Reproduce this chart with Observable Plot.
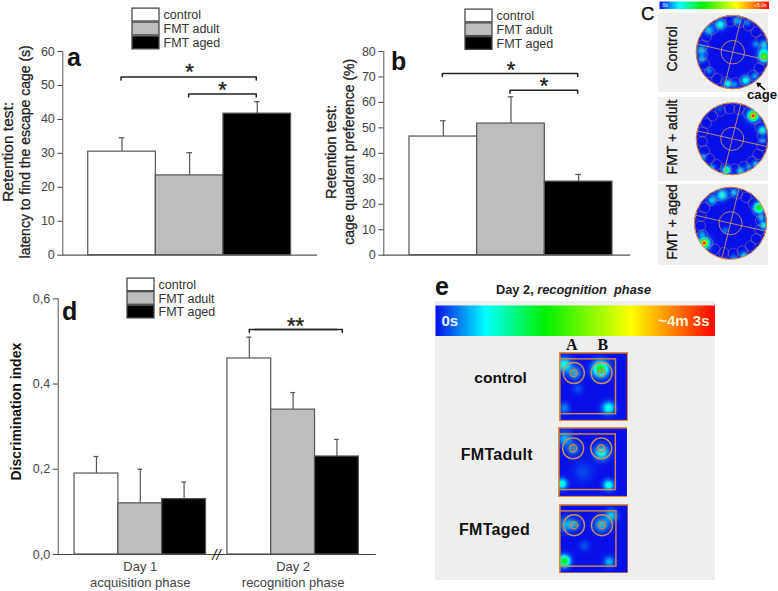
<!DOCTYPE html>
<html>
<head>
<meta charset="utf-8">
<script src="https://cdn.jsdelivr.net/npm/d3@7"></script>
<script src="https://cdn.jsdelivr.net/npm/@observablehq/plot@0.6"></script>
<style>
  html,body{margin:0;padding:0;background:#fff;}
  #fig{position:relative;width:778px;height:591px;overflow:hidden;font-family:"Liberation Sans",Arial,sans-serif;}
  #fig svg{position:absolute;background:transparent;font-family:"Liberation Sans",Arial,sans-serif;}
  .lbl{position:absolute;line-height:1;white-space:nowrap;}
</style>
</head>
<body>
<div id="fig"></div>
<script>
// ---------- data ----------
const groups = ["control", "FMT adult", "FMT aged"];
const groupFills = ["#ffffff", "#bdbdbd", "#000000"];

const aMeans = [30.5, 23.5, 41.7];
const aTops = [34.6, 30.2, 45.2];
const aTicks = [0, 10, 20, 30, 40, 50, 60];
const aBrackets = [
  {from: "control", to: "FMT aged", y: 52.5},
  {from: "FMT adult", to: "FMT aged", y: 47.5}
];

const bMeans = [46.6, 51.7, 28.9];
const bTops = [52.8, 62.2, 31.7];
const bTicks = [0, 10, 20, 30, 40, 50, 60, 70, 80];
const bBrackets = [
  {from: "control", to: "FMT aged", y: 71.4},
  {from: "FMT adult", to: "FMT aged", y: 64.8}
];

const days = ["Day 1", "Day 2"];
const dayLabels = ["Day 1\nacquisition phase", "Day 2\nrecognition phase"];
const dMeansDay1 = [0.19, 0.12, 0.13];
const dTopsDay1 = [0.23, 0.20, 0.17];
const dMeansDay2 = [0.46, 0.34, 0.23];
const dTopsDay2 = [0.51, 0.38, 0.27];
const dTicks = [0, 0.2, 0.4, 0.6];

// heat scale: value stops and their colours
const heatStops = [0, 0.18, 0.39, 0.7, 1];
const heatColors = ["#0810e8", "#00ffff", "#00f000", "#ffff00", "#ff0000"];

// panel c: arena hot spots [x, y, spread, strength], y upward, arena radius = 1
const arenaControl = [
  [.86,-.14,.075,.4],[.85,-.03,.11,.20],[.35,-.77,.08,.20],[-.14,-.86,.07,.20],[.6,-.65,.06,.12],
  [-.34,.75,.09,.20],[-.65,.6,.09,.14],[.12,.86,.08,.12],[.62,.22,.06,.10],[-.85,.05,.09,.13],
  [-.84,-.18,.07,.12],[-.65,-.5,.06,.10],[.85,.22,.07,.14],[.05,-.88,.06,.1],[.4,.8,.06,.08]
];
const arenaAdult = [
  [.58,.64,.06,.85],[.58,.64,.12,.2],[.84,.23,.08,.2],[-.16,-.87,.07,.33],[.23,-.89,.07,.16],
  [-.56,-.8,.06,.12],[-.8,-.5,.06,.1],[.65,-.7,.06,.14],[.84,-.05,.06,.1],[.45,-.78,.06,.1],[-.35,.82,.06,.05]
];
const arenaAged = [
  [-.73,-.55,.06,.85],[-.73,-.55,.12,.2],[.79,.43,.09,.42],[.92,-.06,.07,.2],[-.23,.78,.1,.2],
  [-.51,.64,.08,.15],[.37,-.9,.07,.15],[-.14,-.2,.06,.08],[.09,-.95,.06,.08],[-.79,-.3,.06,.1],[.85,.15,.06,.14],[.1,.85,.07,.14]
];
const cageAngles = [5,23,41,59,77,95,113,131,149,167,185,203,221,239,257,275,293,311,329,347];
const crossA = [[-.97,.22],[.97,-.22]];
const crossB = [[.24,.97],[-.24,-.97]];

// panel e: box hot spots [x, y, spread, strength], y upward, box side = 1
const boxControl = [[.07,.82,.07,.2],[.6,.76,.075,.38],[.22,.7,.06,.13],[.715,.19,.06,.21],[.07,.19,.05,.09],[.27,.47,.05,.05]];
const boxAdult = [[.09,.84,.07,.12],[.21,.69,.06,.1],[.62,.64,.07,.2],[.05,.19,.05,.22],[.72,.17,.05,.22],[.36,.36,.1,.04]];
const boxAged = [[.75,.84,.06,.14],[.1,.71,.07,.12],[.61,.71,.07,.14],[.07,.18,.055,.4],[.72,.17,.05,.13],[.36,.4,.05,.05],[.22,.71,.05,.1]];
const objectSpots = [[.21,.7],[.615,.7]];
const arenaRect = [{x1:0,x2:.825,y1:.1,y2:.9}];

// ---------- helpers ----------
const fig = document.getElementById("fig");
const ink = "#444";
const FONT = "Liberation Sans, Arial, sans-serif";
const fillScale = {domain: groups, range: groupFills};
const star = {fontSize: 22, fill: "#222", stroke: "#222", strokeWidth: .4, fontFamily: FONT};
const axisTitle = {frameAnchor: "left", textAnchor: "middle", rotate: -90, fill: "#222", stroke: "#222", strokeWidth: .3, fontFamily: FONT};

function place(svg, left, top) {
  svg.style.left = left + "px";
  svg.style.top = top + "px";
  fig.appendChild(svg);
}
function label(text, left, baseline, size, css = "") {
  const d = document.createElement("div");
  d.className = "lbl";
  d.innerHTML = text;
  d.style.cssText = `left:${left}px;top:${baseline - 0.83 * size}px;font-size:${size}px;${css}`;
  fig.appendChild(d);
}
function legend(left, top, h) {
  place(Plot.plot({
    width: 122, height: h, marginLeft: 1, marginRight: 94, marginTop: 1, marginBottom: 1,
    x: {domain: [0, 1], axis: null},
    y: {domain: groups, padding: .08, round: false, axis: null},
    color: fillScale,
    marks: [
      Plot.barX(groups, {x1: 0, x2: 1, y: d => d, fill: d => d, stroke: "#4a4a4a", strokeWidth: 1.3}),
      Plot.text(groups, {y: d => d, text: d => d, frameAnchor: "right", textAnchor: "start", dx: 4, fontSize: 12.5, fill: "#333", fontFamily: FONT})
    ]
  }), left - 1, top - 1);
}
function bracketMarks(list, tick, extra = {}) {
  const rows = list.flatMap((b, i) => [
    {k: i, g: b.from, y: b.y - tick}, {k: i, g: b.from, y: b.y},
    {k: i, g: b.to, y: b.y}, {k: i, g: b.to, y: b.y - tick}
  ]);
  return Plot.line(rows, {x: "g", y: "y", z: "k", stroke: "#222", strokeWidth: 1.5, ...extra});
}
function barPanel(o) {
  const rows = groups.map((g, i) => ({g, v: o.means[i], top: o.tops[i]}));
  return Plot.plot({
    width: o.width, height: 270,
    marginLeft: o.ml, marginRight: o.mr, marginTop: 51, marginBottom: 15.3,
    x: {type: "band", domain: groups, paddingInner: 0, paddingOuter: o.po, align: o.align, round: false, axis: null},
    y: {domain: o.yDomain},
    color: fillScale,
    marks: [
      Plot.ruleX(rows, {x: "g", y1: "v", y2: "top", stroke: "#555", strokeWidth: 1.2}),
      Plot.tickY(rows, {x: "g", y: "top", insetLeft: 31, insetRight: 31, stroke: "#555", strokeWidth: 1.2}),
      Plot.barY(rows, {x: "g", y: "v", fill: "g", stroke: "#555", strokeWidth: 1.2}),
      Plot.frame({anchor: "left", stroke: "#555", strokeWidth: 1}),
      Plot.frame({anchor: "bottom", stroke: "#555", strokeWidth: 1.2}),
      Plot.axisY({ticks: o.ticks, tickSize: 5, tickPadding: 3, fontSize: 12.5, color: ink, label: null, fontFamily: FONT}),
      bracketMarks(o.brackets, o.tick, {dx: -1}),
      Plot.text([o.stars[0]], {x: d => d.g, y: d => d.y, text: () => "*", dy: 3, ...star}),
      Plot.text([o.stars[1]], {x: d => d.g, y: d => d.y, text: () => "*", dx: 33, dy: 3, ...star}),
      Plot.text([o.title1], {...axisTitle, dx: o.title1Dx, dy: -1.5, fontSize: o.title1Size}),
      Plot.text([o.title2], {...axisTitle, dx: o.title2Dx, dy: -1.5, fontSize: 14})
    ]
  });
}
function hotValue(spots, x, y) {
  let s = 0;
  for (const [cx, cy, w, a] of spots) {
    const dx = x - cx, dy = y - cy;
    s += a * Math.exp(-(dx * dx + dy * dy) / (2 * w * w));
  }
  return Math.min(1, s);
}
const heatScale = {type: "linear", domain: heatStops, range: heatColors, clamp: true};

function colorBar(left, top, w, h, texts) {
  place(Plot.plot({
    width: w, height: h, margin: 0,
    x: {domain: [0, 1], axis: null}, y: {domain: [0, 1], axis: null},
    color: heatScale,
    marks: [
      Plot.raster({fill: (x, y) => x, x1: 0, x2: 1, y1: 0, y2: 1, pixelSize: 1}),
      ...texts
    ]
  }), left, top);
}
function arena(o) {
  const ring = "#b89078";
  const m = {
    marginLeft: o.cx - o.r - o.l, marginRight: o.l + o.w - o.cx - o.r,
    marginTop: o.cy - o.r - o.t, marginBottom: o.t + o.h - o.cy - o.r
  };
  const cages = cageAngles.map(a => [.84 * Math.cos(a * Math.PI / 180), .84 * Math.sin(a * Math.PI / 180)]);
  const px = o.r;
  const svg = Plot.plot({
    width: o.w, height: o.h, ...m,
    x: {domain: [-1, 1], axis: null}, y: {domain: [-1, 1], axis: null},
    color: heatScale,
    style: {background: "#eeeeee"},
    marks: [
      Plot.raster({fill: (x, y) => (x * x + y * y > 1 ? NaN : hotValue(o.spots, x, y)), x1: -1, x2: 1, y1: -1, y2: 1, pixelSize: 1}),
      Plot.dot(cages, {x: d => d[0], y: d => d[1], r: px * .145, stroke: ring, strokeWidth: .7, strokeOpacity: .6}),
      Plot.line(crossA, {x: d => d[0], y: d => d[1], stroke: "#c8906c", strokeWidth: .9}),
      Plot.line(crossB, {x: d => d[0], y: d => d[1], stroke: "#c8906c", strokeWidth: .9}),
      Plot.dot([[0, 0]], {x: d => d[0], y: d => d[1], r: px * .32, stroke: "#c8906c", strokeWidth: .9}),
      Plot.dot([[0, 0]], {x: d => d[0], y: d => d[1], r: px, stroke: "#d8803c", strokeWidth: 1}),
      ...(o.extra || [])
    ]
  });
  place(svg, o.l, o.t);
}
function squareBox(o) {
  const orange = "#ea8a2c", tan = "#c8925c";
  place(Plot.plot({
    width: o.s, height: o.s, margin: 0,
    x: {domain: [0, 1], axis: null}, y: {domain: [0, 1], axis: null},
    color: heatScale,
    marks: [
      Plot.raster({fill: (x, y) => hotValue(o.spots, x, y), x1: 0, x2: 1, y1: 0, y2: 1, pixelSize: 1}),
      Plot.frame({stroke: orange, strokeWidth: 2.2}),
      Plot.rect(arenaRect, {x1: "x1", x2: "x2", y1: "y1", y2: "y2", fill: "none", stroke: "#d98a3c", strokeWidth: 1.4}),
      Plot.dot(objectSpots, {x: d => d[0], y: d => d[1], r: 10.5, stroke: tan, strokeWidth: 1.4}),
      Plot.dot(objectSpots, {x: d => d[0], y: d => d[1], r: 3.6, stroke: "#d0804a", strokeWidth: 1.4}),
      Plot.dot(objectSpots, {x: d => d[0], y: d => d[1], r: 1, fill: "#b87040"})
    ]
  }), o.l, o.t);
}

// ---------- panel a ----------
place(barPanel({
  width: 320, ml: 62.3, mr: 4, po: .376, align: .5, yDomain: [0, 60],
  means: aMeans, tops: aTops, ticks: aTicks, brackets: aBrackets, tick: .9,
  stars: [{g: "FMT adult", y: 55}, {g: "FMT adult", y: 49.7}],
  title1: "Retention test:", title1Size: 15.5, title1Dx: -54.5,
  title2: "latency to find the escape cage (s)", title2Dx: -37
}), 0, 0);
legend(132, 6.7, 45);
label("a", 67, 65.7, 25, "font-weight:bold;color:#111;");

// ---------- panel b ----------
place(barPanel({
  width: 310, ml: 63.3, mr: 0, po: .323, align: .588, yDomain: [0, 80],
  means: bMeans, tops: bTops, ticks: bTicks, brackets: bBrackets, tick: 1.2,
  stars: [{g: "FMT adult", y: 74.1}, {g: "FMT adult", y: 67.5}],
  title1: "Retention test:", title1Size: 14.6, title1Dx: -52.6,
  title2: "cage quadrant preference (%)", title2Dx: -34
}), 320, 0);
legend(465.3, 7.5, 44.5);
label("b", 391, 70, 25, "font-weight:bold;color:#111;");

// ---------- panel d ----------
const dRows = [
  ...groups.map((g, i) => ({day: days[0], g, v: dMeansDay1[i], top: dTopsDay1[i]})),
  ...groups.map((g, i) => ({day: days[1], g, v: dMeansDay2[i], top: dTopsDay2[i]}))
];
const dBracket = [{from: "control", to: "FMT aged", y: 0.528}];
const bracketRows = (left) => {
  const b = dBracket[0];
  return left
    ? [{g: b.from, y: b.y - .007}, {g: b.from, y: b.y}, {g: b.to, y: b.y}]
    : [{g: b.from, y: b.y}, {g: b.to, y: b.y}, {g: b.to, y: b.y - .007}];
};
const dGeometry = {width: 380, height: 321, marginLeft: 57.7, marginRight: 5.3, marginTop: 28.3, marginBottom: 37};
// axis layer: spans the whole width, so the y axis and baseline are not tied to a facet
place(Plot.plot({
  ...dGeometry,
  x: {domain: [0, 1], axis: null},
  y: {domain: [0, .6]},
  marks: [
    Plot.frame({anchor: "left", stroke: "#555"}),
    Plot.frame({anchor: "bottom", stroke: "#444", strokeWidth: 1.2}),
    Plot.axisY({ticks: dTicks, tickSize: 5, tickPadding: 3, fontSize: 12.5, color: ink, label: null, fontFamily: FONT,
      tickFormat: d => d.toFixed(1).replace(".", ",")}),
    Plot.text(["//"], {frameAnchor: "bottom-left", textAnchor: "middle", dx: 158.3, dy: 1, lineAnchor: "middle", fontSize: 15, fontStyle: "italic", fill: "#222", fontFamily: FONT}),
    Plot.text(["Discrimination index"], {frameAnchor: "left", textAnchor: "middle", dx: -41.7, dy: -15, rotate: -90, fontSize: 14, fontWeight: "bold", fill: "#111", fontFamily: FONT})
  ]
}), 0, 270);
place(Plot.plot({
  ...dGeometry,
  fx: {domain: days, paddingInner: .14, paddingOuter: .107, round: false, axis: null},
  x: {domain: groups, padding: 0, round: false, axis: null},
  y: {domain: [0, .6], axis: null},
  color: fillScale,
  marks: [
    Plot.ruleX(dRows, {fx: "day", x: "g", y1: "v", y2: "top", stroke: "#555", strokeWidth: 1.2}),
    Plot.tickY(dRows, {fx: "day", x: "g", y: "top", insetLeft: 19.5, insetRight: 19.5, stroke: "#555", strokeWidth: 1.2}),
    Plot.barY(dRows, {fx: "day", x: "g", y: "v", fill: "g", stroke: "#555", strokeWidth: 1.2}),
    Plot.line(bracketRows(true), {fx: () => days[1], x: "g", y: "y", stroke: "#222", strokeWidth: 1.5}),
    Plot.line(bracketRows(false), {fx: () => days[1], x: "g", y: "y", dx: 5.4, stroke: "#222", strokeWidth: 1.5}),
    Plot.text([{g: "FMT adult", y: .548}], {fx: () => days[1], x: d => d.g, y: d => d.y, text: () => "**", dx: 2.5, dy: 5, ...star, fontSize: 22, letterSpacing: 2}),
    Plot.text(days, {fx: d => d, text: (d, i) => dayLabels[i], frameAnchor: "bottom", lineAnchor: "top", dy: 5, lineHeight: 1.23, fontSize: 13, fill: ink, fontFamily: FONT})
  ]
}), 0, 270);
legend(126.7, 277, 44);
label("d", 62, 319.3, 25, "font-weight:bold;color:#111;");

// ---------- panel c ----------
colorBar(659, 1, 110, 8, [
  Plot.text(["0s"], {frameAnchor: "left", dx: 3, fontSize: 5, fill: "#fff", fontFamily: FONT}),
  Plot.text(["~5.0s"], {frameAnchor: "right", dx: -3, fontSize: 5, fill: "#fff", fontFamily: FONT})
]);
arena({l: 658, t: 13, w: 110, h: 79, cx: 732.3, cy: 51.7, r: 36.7, spots: arenaControl,
  extra: [Plot.arrow([{}], {x1: () => .864, y1: () => -1.016, x2: () => .665, y2: () => -.845, bend: 0, headLength: 6, stroke: "#000", strokeWidth: 1.5})]});
arena({l: 658, t: 97, w: 110, h: 84, cx: 731.7, cy: 138.3, r: 36, spots: arenaAdult});
arena({l: 658, t: 184, w: 110, h: 81, cx: 730, cy: 222.7, r: 36, spots: arenaAged});
const rotated = (t, cx, cy) => {
  const d = document.createElement("div");
  d.className = "lbl";
  d.textContent = t;
  d.style.cssText = `left:${cx}px;top:${cy}px;font-size:14px;color:#111;-webkit-text-stroke:.3px #111;transform:translate(-50%,-50%) rotate(-90deg);`;
  fig.appendChild(d);
};
rotated("Control", 672, 49);
rotated("FMT + adult", 672, 137);
rotated("FMT + aged", 672, 222);
label("cage", 747, 99, 13.2, "font-weight:bold;color:#111;");
label("C", 641, 20, 18.5, "color:#111;-webkit-text-stroke:.4px #111;");

// ---------- panel e ----------
const panelBg = document.createElement("div");
panelBg.style.cssText = "position:absolute;left:435px;top:301px;width:280px;height:279px;background:#eeeeee;";
fig.appendChild(panelBg);
colorBar(435, 305, 280, 31, [
  Plot.text(["0s"], {frameAnchor: "left", dx: 6, fontSize: 15, fontWeight: "bold", fill: "#e8f0ff", fontFamily: FONT}),
  Plot.text(["~4m 3s"], {frameAnchor: "right", dx: -6, fontSize: 15, fontWeight: "bold", fill: "#fff2d8", fontFamily: FONT})
]);
squareBox({l: 559, t: 352.3, s: 68.5, spots: boxControl});
squareBox({l: 557.5, t: 427, s: 69.5, spots: boxAdult});
squareBox({l: 558.5, t: 503.7, s: 69, spots: boxAged});
label("e", 435, 295, 25, "font-weight:bold;color:#111;");
label('Day 2, <i>recognition&nbsp; phase</i>', 496, 294.3, 12.8, "font-weight:bold;color:#222;");
label("control", 474.3, 383.3, 15.5, "font-weight:bold;color:#111;");
label("FMTadult", 460.7, 460, 16, "font-weight:bold;color:#111;letter-spacing:.3px;");
label("FMTaged", 459, 535.7, 16, "font-weight:bold;color:#111;letter-spacing:.3px;");
label("A", 566, 350.7, 16, "font-weight:bold;font-family:'Liberation Serif',serif;color:#111;");
label("B", 597.5, 350.7, 16, "font-weight:bold;font-family:'Liberation Serif',serif;color:#111;");
</script>
</body>
</html>
